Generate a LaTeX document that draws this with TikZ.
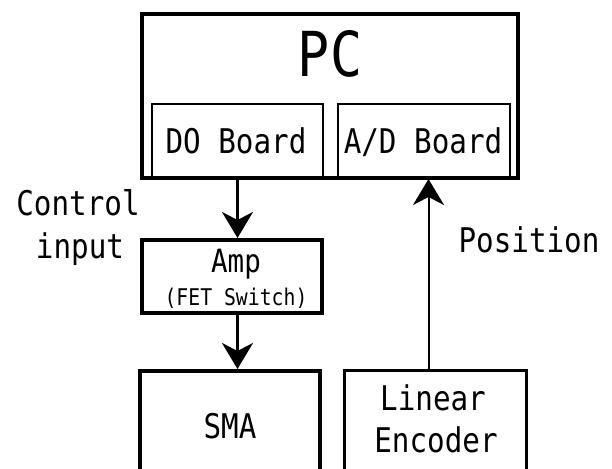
\documentclass[tikz,border=0pt]{standalone}
\usepackage{fontspec}
\newfontfamily\gfont[FakeStretch=0.86]{DejaVu Sans Mono}
\usetikzlibrary{arrows.meta,calc}

\tikzset{
  blk/.style={draw=black, fill=none, inner sep=0pt, rectangle},
  lbl/.style={inner sep=0pt, anchor=base, font=\gfont\fontsize{34}{40}\selectfont},
  small/.style={inner sep=0pt, anchor=base, font=\gfont\fontsize{23}{27}\selectfont},
  arr/.style={line width=2.5pt, -{Stealth[length=26pt 0, width=31pt 0, inset=8pt 0]}},
}

\begin{document}
\begin{tikzpicture}[x=1pt, y=-1pt]
  \useasboundingbox[fill=white] (0,0) rectangle (612,468);

  % PC enclosure with its two interface boards
  \node[blk, line width=4pt, minimum width=376pt, minimum height=164pt] (pc) at (330,96) {};
  \node[lbl, font=\gfont\fontsize{62}{70}\selectfont] (pclbl) at (330,77) {PC};
  \node[blk, line width=2pt, minimum width=171pt, minimum height=74pt] (do) at (237.5,141) {};
  \node[lbl] (dolbl) at (236,153) {DO Board};
  \node[blk, line width=2pt, minimum width=172pt, minimum height=74pt] (ad) at (424,141) {};
  \node[lbl] (adlbl) at (423,153) {A/D Board};

  % Amplifier stage
  \node[blk, line width=4pt, minimum width=180pt, minimum height=73pt] (amp) at (232,276.5) {};
  \node[lbl, font=\gfont\fontsize{32}{38}\selectfont] (amplbl) at (236,272) {Amp};
  \node[small] (fetlbl) at (236,305) {(FET Switch)};

  % Actuator and sensor (run past the lower edge)
  \node[blk, line width=4pt, minimum width=180pt, minimum height=130pt] (sma) at (230,436) {};
  \node[lbl] (smalbl) at (230,438) {SMA};
  \node[blk, line width=3pt, minimum width=182pt, minimum height=130pt] (enc) at (435.5,435.5) {};
  \node[lbl] (enclbl1) at (433,410) {Linear};
  \node[lbl] (enclbl2) at (436,452) {Encoder};

  % Signal labels
  \node[lbl] (ctl1) at (78,215) {Control};
  \node[lbl] (ctl2) at (80,258) {input};
  \node[lbl] (poslbl) at (529,252) {Position};

  % Signal flow
  \draw[arr] (do.south) -- (do.south |- amp.north);
  \draw[arr] (do.south |- amp.south) -- (do.south |- sma.north);
  \draw[arr, line width=2pt] ([xshift=-7pt]enc.north) -- ([xshift=-7pt]enc.north |- ad.south);
\end{tikzpicture}
\end{document}
